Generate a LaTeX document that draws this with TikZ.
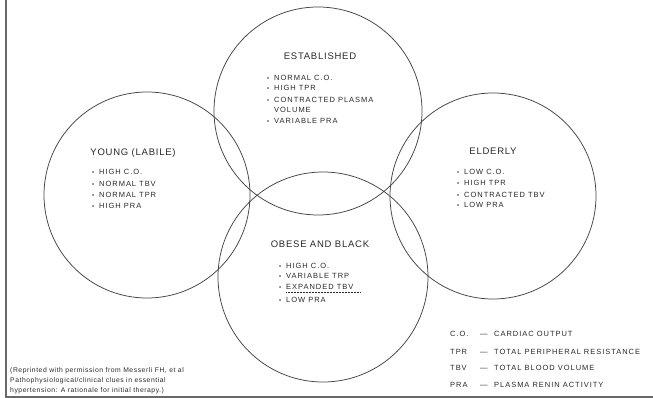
\documentclass[tikz,border=0pt]{standalone}
\usepackage{fontspec}
\setmainfont{Liberation Sans}
\newfontfamily\titlefont[LetterSpace=8]{Liberation Sans}
\newfontfamily\itemfont[LetterSpace=13]{Liberation Sans}
\newfontfamily\notefont[LetterSpace=8]{Liberation Sans}
\newcommand{\bul}{\makebox[7pt][l]{\raisebox{0.3pt}{\fontsize{6}{6}\selectfont•}}}
\definecolor{ink}{HTML}{2A2A2A}
\definecolor{lineink}{HTML}{444444}
\begin{document}
\begin{tikzpicture}[x=1pt,y=-1pt,
  ring/.style={circle,draw=lineink,line width=0.75pt,inner sep=0pt},
  frameline/.style={draw=lineink!80,line width=1.1pt},
  ttl/.style={anchor=base,inner sep=0pt,text=ink,font=\titlefont\fontsize{9.5}{11}\selectfont},
  itm/.style={anchor=base west,inner sep=0pt,text=ink,font=\itemfont\fontsize{7.5}{9}\selectfont},
  note/.style={anchor=base west,inner sep=0pt,text=ink,font=\notefont\fontsize{6.8}{8}\selectfont},
  uline/.style={draw=ink,line width=0.5pt,densely dotted}]
\useasboundingbox (0,0) rectangle (653,398);
\fill[white] (0,0) rectangle (653,398);

% frame
\coordinate (ftop) at (6,0);
\coordinate (fcorner) at (6,397);
\coordinate (fright) at (653,397);
\draw[frameline] (ftop) -- (fcorner) -- (fright);

% circles
\node[ring,minimum size=208pt] (est) at (318,111) {};
\node[ring,minimum size=206pt] (young) at (147,195) {};
\node[ring,minimum size=206pt] (eld) at (493,196) {};
\node[ring,minimum size=210pt] (obese) at (323,277) {};

% Established
\node[ttl] (estT) at (320,59.4) {ESTABLISHED};
\node[itm] (e1) at (267,80.7) {\bul NORMAL C.O.};
\node[itm] (e2) at (267,90.7) {\bul HIGH TPR};
\node[itm] (e3) at (267,102.7) {\bul CONTRACTED PLASMA};
\node[itm] (e4) at (274,112.7) {VOLUME};
\node[itm] (e5) at (267,123.7) {\bul VARIABLE PRA};

% Young
\node[ttl] (yT) at (133,155.4) {YOUNG (LABILE)};
\node[itm] (y1) at (92,174.7) {\bul HIGH C.O.};
\node[itm] (y2) at (92,186.7) {\bul NORMAL TBV};
\node[itm] (y3) at (92,197.7) {\bul NORMAL TPR};
\node[itm] (y4) at (92,208.7) {\bul HIGH PRA};

% Elderly
\node[ttl] (elT) at (493,154.4) {ELDERLY};
\node[itm] (l1) at (457,174.7) {\bul LOW C.O.};
\node[itm] (l2) at (457,185.7) {\bul HIGH TPR};
\node[itm] (l3) at (457,197.7) {\bul CONTRACTED TBV};
\node[itm] (l4) at (457,207.7) {\bul LOW PRA};

% Obese and black
\node[ttl] (oT) at (320,247.4) {OBESE AND BLACK};
\node[itm] (o1) at (279,268.7) {\bul HIGH C.O.};
\node[itm] (o2) at (279,278.7) {\bul VARIABLE TRP};
\node[itm] (o3) at (279,289.7) {\bul EXPANDED TBV};
\node[itm] (o4) at (279,302.7) {\bul LOW PRA};
\coordinate (u1) at (286,292.5);
\coordinate (u2) at (361,292.5);
\draw[uline] (u1) -- (u2);

% legend
\node[itm] (a1) at (450,336.7) {C.O.};
\node[itm] (d1) at (480,336.7) {—};
\node[itm] (t1) at (494,336.7) {CARDIAC OUTPUT};
\node[itm] (a2) at (450,354.7) {TPR};
\node[itm] (d2) at (480,354.7) {—};
\node[itm] (t2) at (494,354.7) {TOTAL PERIPHERAL RESISTANCE};
\node[itm] (a3) at (450,370.7) {TBV};
\node[itm] (d3) at (480,370.7) {—};
\node[itm] (t3) at (494,370.7) {TOTAL BLOOD VOLUME};
\node[itm] (a4) at (450,387.7) {PRA};
\node[itm] (d4) at (480,387.7) {—};
\node[itm] (t4) at (494,387.7) {PLASMA RENIN ACTIVITY};

% footnote
\node[note] (n1) at (10,372.5) {(Reprinted with permission from Messerli FH, et al};
\node[note] (n2) at (10,382.5) {Pathophysiological/clinical clues in essential};
\node[note] (n3) at (10,392) {hypertension: A rationale for initial therapy.)};
\end{tikzpicture}
\end{document}
